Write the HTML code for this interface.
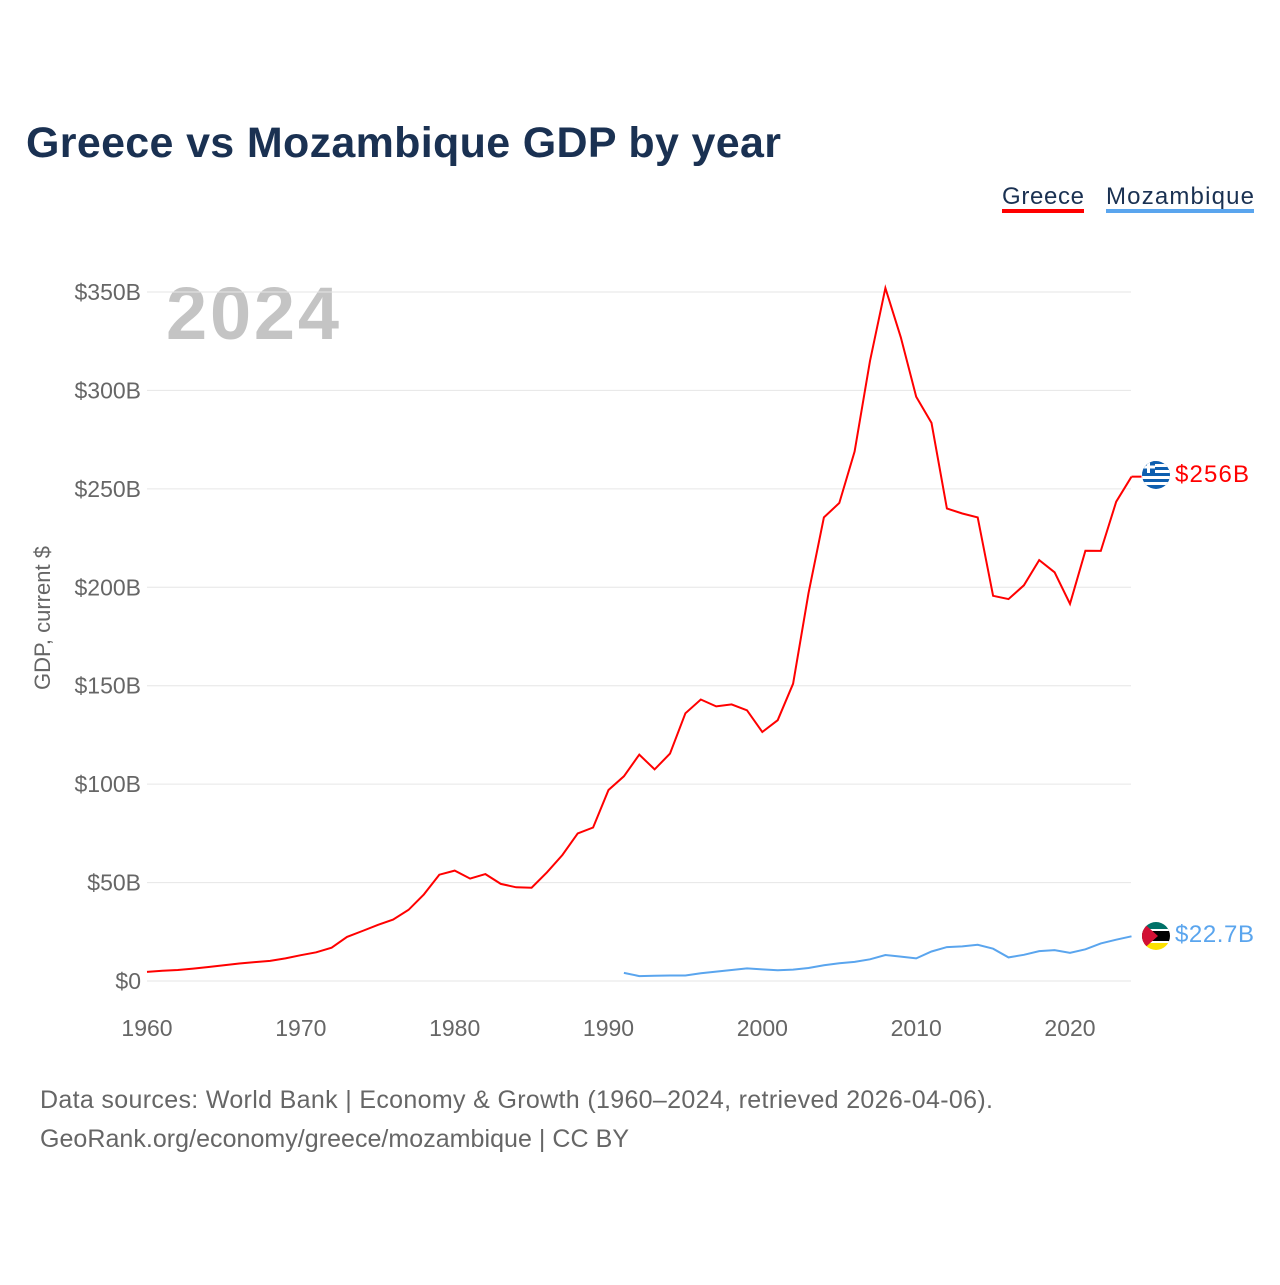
<!DOCTYPE html>
<html><head><meta charset="utf-8">
<style>
body{margin:0;background:#fff;font-family:"Liberation Sans",sans-serif;}
#wrap{position:relative;width:1280px;height:1280px;}
</style></head>
<body>
<div id="wrap">
<svg id="chart" width="1280" height="1280" xmlns="http://www.w3.org/2000/svg">
<text x="26" y="157" font-size="43" font-weight="bold" fill="#1a3152" textLength="755">Greece vs Mozambique GDP by year</text>
<g><text x="1002" y="204" font-size="24" fill="#1a3152" textLength="82">Greece</text><rect x="1002" y="209" width="82" height="4" fill="#ff0000"/></g>
<g><text x="1106" y="204" font-size="24" fill="#1a3152" textLength="148">Mozambique</text><rect x="1106" y="209" width="148" height="4" fill="#5aa5ee"/></g>
<text x="166" y="339" font-size="74" font-weight="bold" fill="#c4c4c4" textLength="173">2024</text>
<text transform="translate(50,618) rotate(-90)" text-anchor="middle" font-size="22" fill="#666">GDP, current $</text>
<g id="grid"></g><g id="yt"></g><g id="xt"></g><g id="lines"></g>
<g>
<clipPath id="cg"><circle cx="1156" cy="475" r="14"/></clipPath>
<g clip-path="url(#cg)"><rect x="1140" y="460" width="32" height="30" fill="#0d5eaf"/>
<rect x="1140" y="464" width="32" height="3" fill="#fff"/><rect x="1140" y="470" width="32" height="3" fill="#fff"/><rect x="1140" y="476" width="32" height="3" fill="#fff"/><rect x="1140" y="482" width="32" height="3" fill="#fff"/>
<rect x="1142" y="461" width="13" height="12" fill="#0d5eaf"/><rect x="1142" y="465.5" width="13" height="3" fill="#fff"/><rect x="1147" y="461" width="3" height="12" fill="#fff"/></g></g>
<g>
<clipPath id="cm"><circle cx="1156" cy="936" r="14"/></clipPath>
<g clip-path="url(#cm)"><rect x="1140" y="920" width="32" height="10" fill="#007168"/><rect x="1140" y="930" width="32" height="12" fill="#000"/><rect x="1140" y="929" width="32" height="2" fill="#fff"/><rect x="1140" y="941" width="32" height="2" fill="#fff"/><rect x="1140" y="943" width="32" height="10" fill="#fce100"/>
<polygon points="1140,920 1158,936 1140,952" fill="#d21034"/></g></g>
<text x="1175" y="482" font-size="24" fill="#ff0000" textLength="74">$256B</text>
<text x="1175" y="942" font-size="24" fill="#5aa5ee" textLength="79">$22.7B</text>
<text x="40" y="1108" font-size="25" fill="#666" textLength="953">Data sources: World Bank | Economy &amp; Growth (1960–2024, retrieved 2026-04-06).</text>
<text x="40" y="1147" font-size="25" fill="#666" textLength="589">GeoRank.org/economy/greece/mozambique | CC BY</text>
</svg>
</div>
<script>
const greeceYears=[1960,1961,1962,1963,1964,1965,1966,1967,1968,1969,1970,1971,1972,1973,1974,1975,1976,1977,1978,1979,1980,1981,1982,1983,1984,1985,1986,1987,1988,1989,1990,1991,1992,1993,1994,1995,1996,1997,1998,1999,2000,2001,2002,2003,2004,2005,2006,2007,2008,2009,2010,2011,2012,2013,2014,2015,2016,2017,2018,2019,2020,2021,2022,2023,2024];
const greeceGdp=[4.6,5.2,5.6,6.3,7.1,8.0,8.9,9.6,10.2,11.5,13.1,14.6,16.9,22.4,25.4,28.5,31.2,36.1,44,54,56.1,52,54.3,49.3,47.6,47.4,55.2,64,75,78,97,104,115,107.5,115.5,136,143,139.5,140.5,137.5,126.5,132.5,151,197,235.5,242.8,269,315,352,327,296.8,283.5,240,237.5,235.5,195.7,194,201,213.8,207.6,191.6,218.6,218.5,243.5,256.2];
const mozYears=[1991,1992,1993,1994,1995,1996,1997,1998,1999,2000,2001,2002,2003,2004,2005,2006,2007,2008,2009,2010,2011,2012,2013,2014,2015,2016,2017,2018,2019,2020,2021,2022,2023,2024];
const mozGdp=[4.1,2.5,2.7,2.8,2.8,3.9,4.8,5.6,6.4,5.9,5.5,5.8,6.6,8.0,9.0,9.7,11.0,13.2,12.4,11.5,15.0,17.2,17.6,18.4,16.4,12.0,13.3,15.2,15.7,14.3,16.1,19.1,21.0,22.7];
const yTicks=[0,50,100,150,200,250,300,350];
const yTickLabels=["$0","$50B","$100B","$150B","$200B","$250B","$300B","$350B"];
const xTicks=[1960,1970,1980,1990,2000,2010,2020];
const NS="http://www.w3.org/2000/svg";
const xs=y=>147+(y-1960)*(1070-147)/60;
const ys=v=>981-v*(981-292)/350;
function mk(tag,attrs,parent){const e=document.createElementNS(NS,tag);for(const k in attrs)e.setAttribute(k,attrs[k]);parent.appendChild(e);return e;}
const grid=document.getElementById('grid'),yt=document.getElementById('yt'),xt=document.getElementById('xt'),lines=document.getElementById('lines');
yTicks.forEach((v,i)=>{
 const l=mk('line',{x1:147,x2:1131,y1:ys(v),y2:ys(v),stroke:'#e6e6e6','stroke-width':1},grid);
 
 
 const t=mk('text',{x:141,y:ys(v)+8,'text-anchor':'end','font-size':23,fill:'#666'},yt);
 t.textContent=yTickLabels[i];
 
 
});
xTicks.forEach(y=>{
 const t=mk('text',{x:xs(y),y:1036,'text-anchor':'middle','font-size':23,fill:'#666'},xt);
 t.textContent=y;
 
 
});
const pg=mk('path',{d:greeceYears.map((y,i)=>(i?'L':'M')+xs(y).toFixed(1)+','+ys(greeceGdp[i]).toFixed(1)).join(''),fill:'none',stroke:'#ff0000','stroke-width':2},lines);


const gl=greeceGdp.length-1;
const cg=mk('line',{x1:xs(greeceYears[gl]),x2:xs(greeceYears[gl])+10,y1:ys(greeceGdp[gl]),y2:ys(greeceGdp[gl]),stroke:'#ff0000','stroke-width':2},lines);


const pm=mk('path',{d:mozYears.map((y,i)=>(i?'L':'M')+xs(y).toFixed(1)+','+ys(mozGdp[i]).toFixed(1)).join(''),fill:'none',stroke:'#5aa5ee','stroke-width':2},lines);


</script>
</body></html>
